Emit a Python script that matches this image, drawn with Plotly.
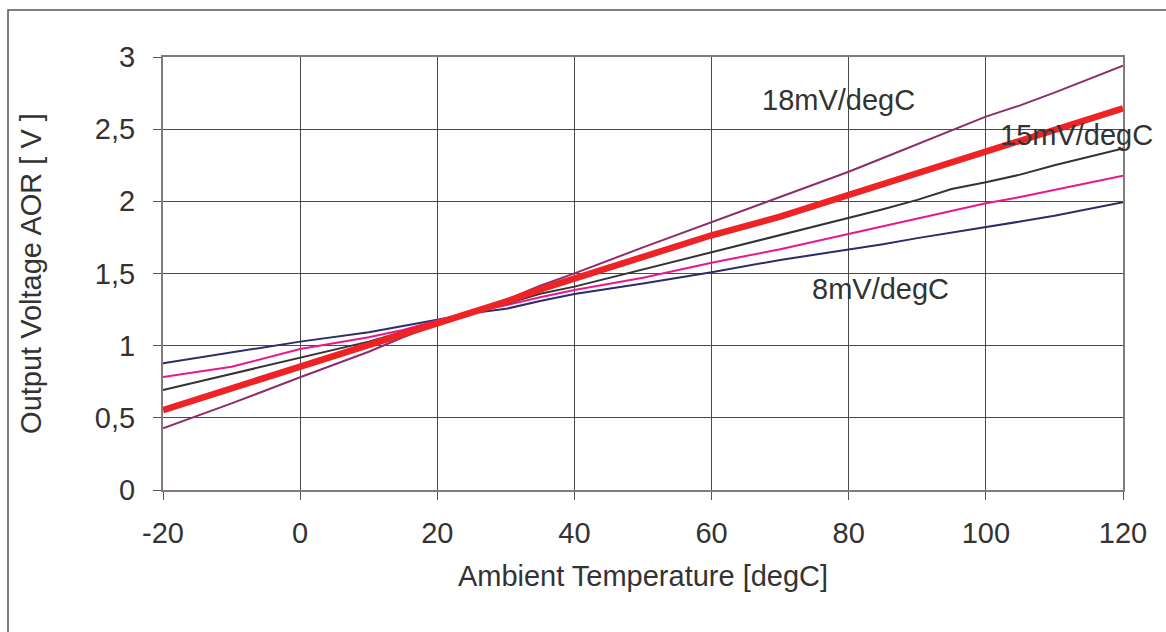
import plotly.graph_objects as go

# Temperature points (degC)
temp = [-20, -10, 0, 10, 15, 20, 25, 30, 35, 40, 50, 60, 70, 80, 85, 90, 95, 100, 105, 110, 120]

# Output voltage AOR [V] per sensitivity curve
v_18 = [0.427, 0.600, 0.781, 0.958, 1.058, 1.150, 1.235, 1.316, 1.415, 1.501, 1.681, 1.855, 2.030, 2.205, 2.300, 2.395, 2.490, 2.587, 2.665, 2.753, 2.940]
v_15 = [0.554, 0.705, 0.859, 1.000, 1.086, 1.158, 1.235, 1.305, 1.390, 1.467, 1.612, 1.765, 1.894, 2.044, 2.118, 2.195, 2.268, 2.344, 2.420, 2.494, 2.645]
v_12 = [0.693, 0.804, 0.919, 1.028, 1.097, 1.165, 1.235, 1.290, 1.360, 1.409, 1.527, 1.647, 1.767, 1.882, 1.945, 2.010, 2.085, 2.132, 2.185, 2.250, 2.367]
v_10 = [0.783, 0.854, 0.977, 1.058, 1.109, 1.175, 1.232, 1.280, 1.336, 1.386, 1.471, 1.575, 1.668, 1.774, 1.830, 1.885, 1.935, 1.986, 2.030, 2.080, 2.178]
v_8 = [0.878, 0.951, 1.028, 1.093, 1.135, 1.180, 1.225, 1.255, 1.310, 1.358, 1.430, 1.508, 1.594, 1.668, 1.702, 1.745, 1.782, 1.824, 1.860, 1.900, 1.993]

x_ticks = [-20, 0, 20, 40, 60, 80, 100, 120]
x_tick_text = ["-20", "0", "20", "40", "60", "80", "100", "120"]
y_ticks = [0, 0.5, 1, 1.5, 2, 2.5, 3]
y_tick_text = ["0", "0,5", "1", "1,5", "2", "2,5", "3"]

labels = ["18mV/degC", "15mV/degC", "8mV/degC"]
label_x = [67.1, 101.8, 74.4]
label_y = [2.70, 2.46, 1.395]

FONT = "Liberation Sans, Arial, Helvetica, sans-serif"
TXT = "#333333"
FS = 29

fig = go.Figure()
series = [
    (v_8, "#2b2d6b", 2),
    (v_10, "#ec168c", 2),
    (v_12, "#333333", 2),
    (v_18, "#8e2d6c", 2),
    (v_15, "#ee2326", 6.5),
]
for vals, col, w in series:
    fig.add_trace(go.Scatter(x=temp, y=vals, mode="lines",
                             line=dict(color=col, width=w), showlegend=False,
                             hoverinfo="skip", cliponaxis=True))

for t, xx, yy in zip(labels, label_x, label_y):
    fig.add_annotation(x=xx, y=yy, text=t, showarrow=False, xanchor="left",
                       yanchor="middle", font=dict(family=FONT, size=FS, color=TXT))

# outer chart border
fig.add_shape(type="rect", xref="paper", yref="paper",
              x0=(8 - 163) / 960, x1=(1180 - 163) / 960,
              y0=(490 - 660) / 433, y1=(490 - 10) / 433,
              line=dict(color="#555555", width=1.5), layer="below")

fig.update_layout(
    width=1166, height=632,
    margin=dict(l=163, r=43, t=57, b=142),
    paper_bgcolor="white", plot_bgcolor="white",
    font=dict(family=FONT, size=FS, color=TXT),
    xaxis=dict(range=[-20, 120], tickvals=x_ticks, ticktext=x_tick_text, showgrid=True,
               gridcolor="#4a4a4a", gridwidth=1, zeroline=False,
               showline=True, linecolor="#857a7a", linewidth=2, mirror=True,
               ticks="outside", ticklen=8, tickcolor="#555555", ticklabelstandoff=8,
               tickfont=dict(size=FS, color=TXT),
               title=dict(text="Ambient Temperature [degC]", font=dict(size=FS, color=TXT), standoff=18)),
    yaxis=dict(range=[0, 3], tickvals=y_ticks, ticktext=y_tick_text, showgrid=True,
               gridcolor="#4a4a4a", gridwidth=1, zeroline=False,
               showline=True, linecolor="#857a7a", linewidth=2, mirror=True,
               ticks="outside", ticklen=8, tickcolor="#555555", ticklabelstandoff=12,
               tickfont=dict(size=FS, color=TXT),
               title=dict(text="Output Voltage AOR [ V ]", font=dict(size=FS, color=TXT), standoff=45)),
)

fig.write_html("out.html")
